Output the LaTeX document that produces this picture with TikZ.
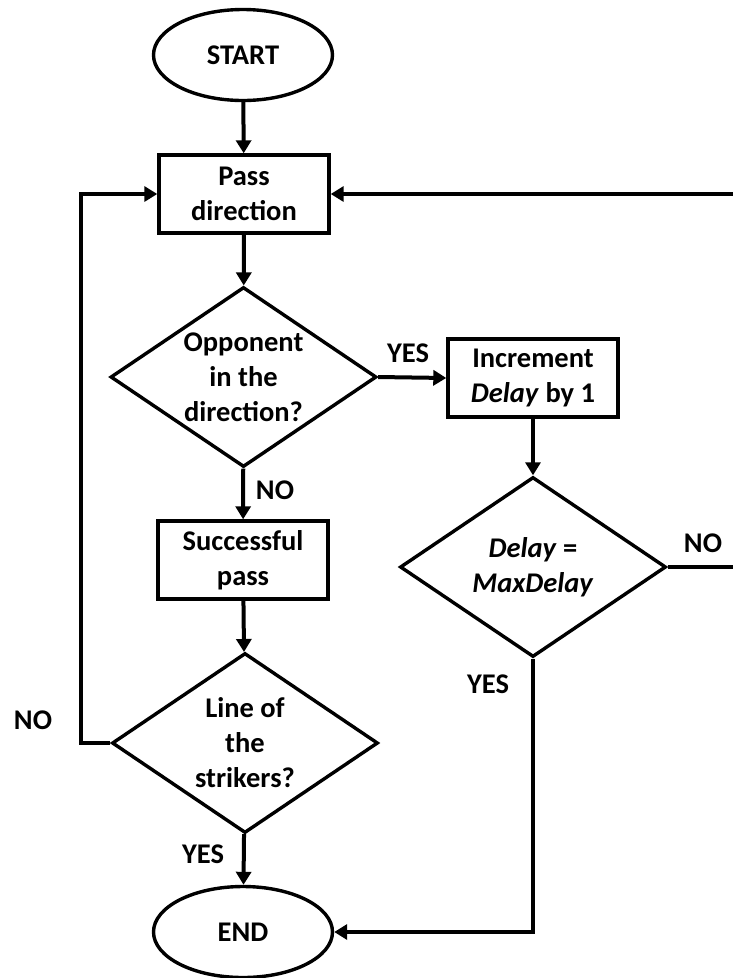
\documentclass[tikz,border=0pt]{standalone}
\usepackage{fontspec}
\setmainfont{Carlito}
\usetikzlibrary{shapes.geometric,arrows.meta}

\begin{document}
\begin{tikzpicture}[x=1pt,y=-1pt,
    font=\fontsize{28.5}{35}\selectfont\bfseries,
    terminal/.style={draw,ellipse,line width=3.4pt,inner sep=0pt,minimum width=179pt,minimum height=91pt},
    process/.style={draw,rectangle,line width=3.4pt,inner sep=0pt,align=center,minimum width=170pt,minimum height=78pt},
    decision/.style={draw,diamond,line width=3.4pt,inner sep=-10pt,align=center,minimum width=266pt,minimum height=180pt},
    flow/.style={line width=4pt,-{Triangle[length=13pt,width=15pt]}},
    plain/.style={line width=4pt}]
\clip (0,0) rectangle (733,978);
%\draw[gray] (0,0) grid[step=50] (733,978);
% main column
\node[terminal] (start) at (243,55) {START};
\node[process] (pass) at (244,194) {Pass\\direction};
\node[decision] (opp) at (243.5,377) {Opponent\\in the\\direction?};
\node[process] (succ) at (243,560) {Successful\\pass};
\node[decision] (strk) at (245,743) {Line of\\the\\strikers?};
\node[terminal] (end) at (243,932) {END};
% right column
\node[process] (inc) at (533,378) {Increment\\\textit{Delay} by 1};
\node[decision] (delay) at (533,567) {\textit{Delay} =\\\textit{MaxDelay}};
% answers
\node (yes1) at (408,353) {YES};
\node (no1) at (275,490) {NO};
\node (no2) at (703,543) {NO};
\node (yes2) at (488,684) {YES};
\node (no3) at (33,720) {NO};
\node (yes3) at (203,854) {YES};
% loop corners
\coordinate (loopl) at (81,743);
\coordinate (loopr) at (750,567);

\draw[flow] (start) -- (pass);
\draw[flow] (pass) -- (opp);
\draw[flow] (opp) -- (succ);
\draw[flow] (succ) -- (strk);
\draw[flow] (strk) -- (end);
\draw[flow] (opp.east) -- (inc.west);
\draw[flow] (inc) -- (delay);
\draw[flow] (strk.west) -- (loopl) |- (pass.west);
\draw[flow] (delay.east) -- (loopr) |- (pass.east);
\draw[flow] (delay.south) |- (end.east);
\end{tikzpicture}
\end{document}
